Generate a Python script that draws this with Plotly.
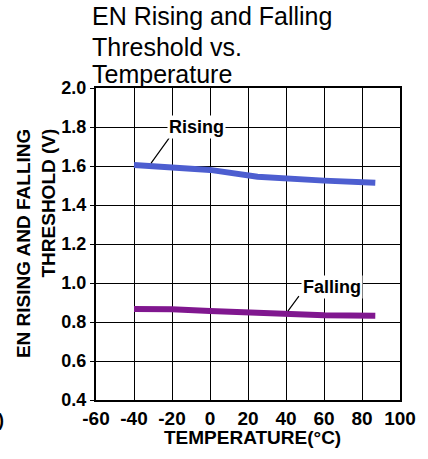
import plotly.graph_objects as go

temps = [-40, -20, 0, 25, 40, 60, 87]
rising = [1.605, 1.595, 1.58, 1.545, 1.535, 1.525, 1.514]
falling = [0.867, 0.866, 0.856, 0.845, 0.840, 0.835, 0.832]

x_ticks = [-60, -40, -20, 0, 20, 40, 60, 80, 100]
y_ticks = [0.4, 0.6, 0.8, 1.0, 1.2, 1.4, 1.6, 1.8, 2.0]

title_lines = ["EN Rising and Falling", "Threshold vs.", "Temperature"]

FONT = "Arial, Liberation Sans, sans-serif"

fig = go.Figure()
fig.add_trace(go.Scatter(x=temps, y=rising, mode="lines",
                         line=dict(color="#4d5ed0", width=6), showlegend=False, hoverinfo="skip"))
fig.add_trace(go.Scatter(x=temps, y=falling, mode="lines",
                         line=dict(color="#80178f", width=6), showlegend=False, hoverinfo="skip"))

# leader lines
fig.add_annotation(x=-31, y=1.615, ax=21, ay=-29, text=" ", showarrow=True,
                   arrowhead=0, arrowwidth=1.2, arrowcolor="black", standoff=0, startstandoff=0)
fig.add_annotation(x=41, y=0.856, ax=14, ay=-19, text=" ", showarrow=True,
                   arrowhead=0, arrowwidth=1.2, arrowcolor="black", standoff=0, startstandoff=0)

# labels
fig.add_annotation(x=-7, y=1.80, text="<b>Rising</b>", showarrow=False, bgcolor="white",
                   font=dict(family=FONT, size=18, color="black"), borderpad=1)
fig.add_annotation(x=64, y=0.98, text="<b>Falling</b>", showarrow=False, bgcolor="white",
                   font=dict(family=FONT, size=18, color="black"), borderpad=1)

# chart title (three lines)
for line, yp in zip(title_lines, [1.2298, 1.1304, 1.0439]):
    fig.add_annotation(xref="paper", yref="paper", x=-0.021, y=yp, xanchor="left", yanchor="middle",
                       text=line, showarrow=False, font=dict(family=FONT, size=25, color="black"))

# y axis title
fig.add_annotation(xref="paper", yref="paper", x=-0.197, y=0.5, xanchor="center", yanchor="middle",
                   text="<b>EN RISING AND FALLING</b><br><b>THRESHOLD (V)</b>", align="right",
                   textangle=-90, showarrow=False, font=dict(family=FONT, size=19, color="black"))

# x axis title
fig.add_annotation(xref="paper", yref="paper", x=0.515, y=-0.12, yanchor="middle",
                   text="<b>TEMPERATURE(°C)</b>", showarrow=False,
                   font=dict(family=FONT, size=19, color="black"))

# clipped glyph at bottom-left edge
fig.add_annotation(xref="paper", yref="paper", x=-0.296, y=-0.102, xanchor="right",
                   text="<b>)</b>", showarrow=False, font=dict(family=FONT, size=18, color="black"))

fig.update_layout(
    width=428, height=459,
    margin=dict(l=96, r=22, t=88, b=59),
    paper_bgcolor="white", plot_bgcolor="white",
    font=dict(family=FONT, color="black"),
    hovermode=False,
)
fig.update_xaxes(range=[-60, 100], tickvals=x_ticks, ticktext=[f"<b>{v}</b>" for v in x_ticks],
                 showgrid=True, gridcolor="black", gridwidth=1,
                 showline=True, linecolor="black", linewidth=2, mirror=True,
                 ticks="", zeroline=False, tickfont=dict(family=FONT, size=19, color="black"))
fig.update_yaxes(range=[0.4, 2.0], tickvals=y_ticks, ticktext=[f"<b>{v:.1f}</b>" for v in y_ticks],
                 showgrid=True, gridcolor="black", gridwidth=1,
                 showline=True, linecolor="black", linewidth=2, mirror=True,
                 ticks="outside", ticklen=4, tickcolor="black", zeroline=False,
                 tickfont=dict(family=FONT, size=18, color="black"))

fig.write_html("out.html", config={"displayModeBar": False},
               post_script="document.body.style.margin='0';")
